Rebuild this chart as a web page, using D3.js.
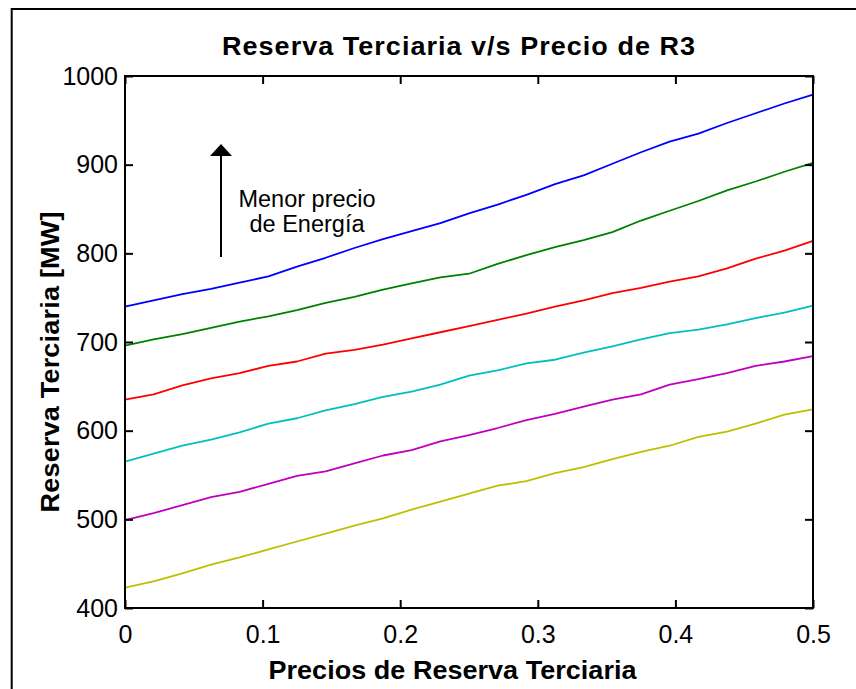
<!DOCTYPE html>
<html>
<head>
<meta charset="utf-8">
<script src="https://cdn.jsdelivr.net/npm/d3@7"></script>
<style>
  html, body { margin: 0; padding: 0; background: #fff; }
  svg { display: block; }
  text { font-family: "Liberation Sans", Arial, Helvetica, sans-serif; fill: #000; }
</style>
</head>
<body>
<svg id="chart" width="856" height="689"></svg>
<script>
// Reserve price grid (x) and reserve volume for each energy-price scenario (MW)
const precios = [0, 0.0208, 0.0417, 0.0625, 0.0833, 0.1042, 0.125, 0.1458, 0.1667, 0.1875,
  0.2083, 0.2292, 0.25, 0.2708, 0.2917, 0.3125, 0.3333, 0.3542, 0.375, 0.3958,
  0.4167, 0.4375, 0.4583, 0.4792, 0.5];

const serieAzul = [740, 747, 754, 760, 767, 774, 785, 795, 806, 816, 825, 834, 845, 855, 866, 878, 888, 901, 914, 926, 935, 947, 958, 969, 979];
const serieVerde = [696, 703, 709, 716, 723, 729, 736, 744, 751, 759, 766, 773, 777, 788, 798, 807, 815, 824, 837, 848, 859, 871, 881, 892, 902];
const serieRoja = [635, 641, 651, 659, 665, 673, 678, 687, 691, 697, 704, 711, 718, 725, 732, 740, 747, 755, 761, 768, 774, 783, 794, 803, 814];
const serieCian = [565, 574, 583, 590, 598, 608, 614, 623, 630, 638, 644, 652, 662, 668, 676, 680, 688, 695, 703, 710, 714, 720, 727, 733, 741];
const serieMagenta = [499, 507, 516, 525, 531, 540, 549, 554, 563, 572, 578, 588, 595, 603, 612, 619, 627, 635, 641, 652, 658, 665, 673, 678, 684];
const serieAmarilla = [423, 430, 439, 449, 457, 466, 475, 484, 493, 501, 511, 520, 529, 538, 543, 552, 559, 568, 576, 583, 593, 599, 608, 618, 624];

const xTicks = [0, 0.1, 0.2, 0.3, 0.4, 0.5];
const yTicks = [400, 500, 600, 700, 800, 900, 1000];

const series = [
  { values: serieAzul, color: "#0000ff" },
  { values: serieVerde, color: "#008000" },
  { values: serieRoja, color: "#ff0000" },
  { values: serieCian, color: "#00bfbf" },
  { values: serieMagenta, color: "#bf00bf" },
  { values: serieAmarilla, color: "#bfbf00" }
];

const svg = d3.select("#chart");
const plot = { left: 125, top: 76, right: 813, bottom: 608 };

const x = d3.scaleLinear().domain([0, 0.5]).range([plot.left, plot.right]);
const y = d3.scaleLinear().domain([400, 1000]).range([plot.bottom, plot.top]);

// Outer figure frame
svg.append("rect")
  .attr("x", 11.7).attr("y", 9)
  .attr("width", 900).attr("height", 720)
  .attr("fill", "none").attr("stroke", "#000").attr("stroke-width", 2);

// Data lines
const line = d3.line()
  .x((d, i) => x(precios[i]))
  .y(d => y(d));

svg.append("g").selectAll("path")
  .data(series)
  .join("path")
  .attr("d", s => line(s.values))
  .attr("fill", "none")
  .attr("stroke", s => s.color)
  .attr("stroke-width", 1.8)
  .attr("stroke-linejoin", "round");

// Axes with inward ticks on all four sides
const tickLen = 8;
function styleAxis(g) {
  g.selectAll(".domain").remove();
  g.selectAll(".tick line").attr("stroke", "#000").attr("stroke-width", 2);
}
function styleLabels(g) {
  g.selectAll("text")
    .attr("font-size", 25)
    .attr("font-family", "Liberation Sans, Arial, sans-serif")
    .attr("fill", "#000");
}
svg.append("g")
  .attr("transform", `translate(0,${plot.bottom})`)
  .call(d3.axisBottom(x).tickValues(xTicks).tickSize(-tickLen).tickPadding(17).tickFormat(d3.format("")))
  .call(styleAxis)
  .call(styleLabels);

svg.append("g")
  .attr("transform", `translate(0,${plot.top})`)
  .call(d3.axisTop(x).tickValues(xTicks).tickSize(-tickLen).tickFormat(""))
  .call(styleAxis);

svg.append("g")
  .attr("transform", `translate(${plot.left},0)`)
  .call(d3.axisLeft(y).tickValues(yTicks).tickSize(-tickLen).tickPadding(7).tickFormat(d3.format("d")))
  .call(styleAxis)
  .call(styleLabels);

svg.append("g")
  .attr("transform", `translate(${plot.right},0)`)
  .call(d3.axisRight(y).tickValues(yTicks).tickSize(-tickLen).tickFormat(""))
  .call(styleAxis);

// Plot box
svg.append("rect")
  .attr("x", plot.left).attr("y", plot.top)
  .attr("width", plot.right - plot.left).attr("height", plot.bottom - plot.top)
  .attr("fill", "none").attr("stroke", "#000").attr("stroke-width", 2);

// Title and axis labels (bold face, slightly widened)
const stretch = 1.08;
function boldLabel(transform, width, label) {
  svg.append("text")
    .attr("transform", `${transform} scale(${stretch},1)`)
    .attr("text-anchor", "middle")
    .attr("font-size", 25).attr("font-weight", "bold")
    .attr("textLength", width / stretch).attr("lengthAdjust", "spacing")
    .text(label);
}
boldLabel("translate(458.5,55)", 473, "Reserva Terciaria v/s Precio de R3");
boldLabel("translate(452.5,679)", 368, "Precios de Reserva Terciaria");
boldLabel("translate(59,362) rotate(-90)", 301, "Reserva Terciaria [MW]");

// Annotation: arrow and note
svg.append("line")
  .attr("x1", 221).attr("y1", 257)
  .attr("x2", 221).attr("y2", 154)
  .attr("stroke", "#000").attr("stroke-width", 2);
svg.append("path")
  .attr("d", "M221,144 L232,156 L210,156 Z")
  .attr("fill", "#000");

const nota = svg.append("text")
  .attr("text-anchor", "middle")
  .attr("font-size", 23.5);
nota.append("tspan").attr("x", 307).attr("y", 207).text("Menor precio");
nota.append("tspan").attr("x", 307).attr("y", 232).text("de Energía");
</script>
</body>
</html>
